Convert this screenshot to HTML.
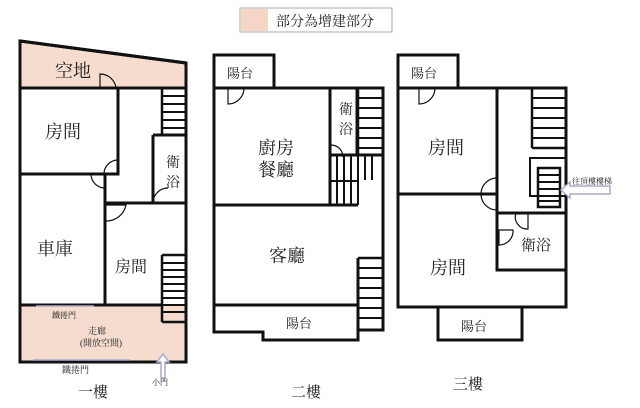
<!DOCTYPE html><html><head><meta charset="utf-8"><style>body{margin:0;background:#fff}svg{display:block}text{font-family:"Liberation Serif","Noto Serif CJK SC",serif;fill:#222}</style></head><body>
<svg width="640" height="408" viewBox="0 0 640 408" xmlns="http://www.w3.org/2000/svg">
<rect x="240" y="8" width="152" height="24" fill="#fff" stroke="#aaa"/>
<rect x="241" y="9" width="27" height="22" fill="#f6d5c6"/>
<text x="276" y="26" font-size="14">部分為增建部分</text>
<g stroke="#111" stroke-width="3" fill="none">
<polygon points="20,41 186,63 186,88 20,88" fill="#f6dccf"/>
<rect x="20" y="305" width="166" height="57" fill="#f6dccf" stroke="none"/>
<polyline points="20,41 186,63 186,362 20,362 20,41"/>
<line x1="20" y1="88" x2="186" y2="88"/>
<rect x="20" y="88" width="98" height="86"/>
<line x1="20" y1="174" x2="105" y2="174"/>
<line x1="105" y1="174" x2="105" y2="305"/>
<line x1="153" y1="135" x2="186" y2="135"/><line x1="153" y1="135" x2="153" y2="203"/>
<line x1="105" y1="203" x2="186" y2="203"/>
<line x1="20" y1="305" x2="162" y2="305"/>
<rect x="214" y="55" width="60" height="33"/>
<polyline points="214,88 383,88 383,330 358,330 358,340 263,340 263,332 214,332 214,88"/>
<line x1="214" y1="205" x2="358" y2="205"/>
<line x1="330" y1="88" x2="330" y2="205"/>
<line x1="330" y1="155" x2="383" y2="155"/>
<line x1="357" y1="88" x2="357" y2="155"/>
<line x1="214" y1="305" x2="358" y2="305"/>
<line x1="358" y1="258" x2="358" y2="340"/>
<rect x="398" y="55" width="60" height="33"/>
<rect x="398" y="88" width="168" height="219"/>
<line x1="497" y1="88" x2="497" y2="270"/>
<line x1="398" y1="194" x2="497" y2="194"/>
<rect x="497" y="213" width="69" height="57"/>
<rect x="438" y="307" width="84" height="33"/>
<rect x="530" y="158" width="36" height="38" stroke-width="2"/>
</g>
<g stroke="#111" stroke-width="2.5">
<line x1="162" y1="88" x2="162" y2="134"/><line x1="162" y1="255" x2="162" y2="322"/>
<line x1="162" y1="322" x2="186" y2="322"/><line x1="162" y1="255" x2="186" y2="255"/>
<line x1="358" y1="88" x2="358" y2="155"/>
<line x1="358" y1="258" x2="383" y2="258"/>
<line x1="532" y1="88" x2="532" y2="148"/><line x1="532" y1="148" x2="566" y2="148"/>
<rect x="538" y="168" width="22" height="39" fill="#fff"/>
</g>
<g stroke="#111" stroke-width="2">
<path d="M162,96h24M162,104h24M162,112h24M162,120h24M162,128h24"/>
<path d="M162,263h24M162,270h24M162,277h24M162,284h24M162,291h24M162,298h24M162,305h24M162,312h24"/>
<path d="M358,98h25M358,108h25M358,118h25M358,128h25M358,138h25M358,148h25"/>
<path d="M337,155v50M344,155v50M351,155v50M358,155v50M365,155v25M372,155v25M330,181h28"/>
<path d="M358,268h25M358,278h25M358,288h25M358,298h25M358,308h25M358,318h25"/>
<path d="M532,98h34M532,108h34M532,118h34M532,128h34M532,138h34"/>
<path d="M538,175h22M538,182h22M538,189h22M538,196h22M538,201h22"/>
</g>
<g stroke="#111" stroke-width="1.2" fill="none">
<path d="M100,88 v-14 a16,16 0 0 1 16,14"/>
<path d="M118,174 h-14 a14,14 0 0 1 14,-14"/>
<path d="M105,174 h-14 a14,14 0 0 0 14,14"/>
<path d="M106,205 h20 a20,20 0 0 1 -20,16"/>
<path d="M153,203 a15,15 0 0 1 15,-15"/>
<path d="M228,88 v16 a16,16 0 0 0 16,-16"/>
<path d="M331,145 a12,12 0 0 1 12,12"/>
<path d="M419,88 v16 a16,16 0 0 0 16,-16"/>
<path d="M497,178 a16,16 0 0 0 0,32 M497,178 v32"/>
<path d="M528,213 v16 a12,12 0 0 1 -12,-16"/>
<path d="M499,230 v15 a14,14 0 0 0 14,-15z"/>
</g>
<g stroke="#aac" stroke-width="1.5" fill="#fff">
<path d="M36,306h58M33,360h97"/>
<path d="M610,186 h-40 v-4 l-9,8 9,8 v-4 h40z"/>
<path d="M161,378 v-16 h-4 l6,-8 6,8 h-4 v16z"/>
</g>
<text x="55" y="77" font-size="18">空地</text>
<text x="45" y="138" font-size="18">房間</text>
<text x="166" y="167" font-size="14">衛</text><text x="166" y="187" font-size="14">浴</text>
<text x="37" y="255" font-size="18">車庫</text>
<text x="115" y="272" font-size="16">房間</text>
<text x="52" y="318" font-size="8">鐵捲門</text>
<text x="88" y="334" font-size="9">走廊</text>
<text x="80" y="346" font-size="9">(開放空間)</text>
<text x="62" y="373" font-size="9">鐵捲門</text>
<text x="152" y="385" font-size="8">小門</text>
<text x="78" y="397" font-size="15">一樓</text>
<text x="227" y="78" font-size="13">陽台</text>
<text x="339" y="114" font-size="14">衛</text><text x="339" y="134" font-size="14">浴</text>
<text x="258" y="154" font-size="18">廚房</text>
<text x="258" y="176" font-size="18">餐廳</text>
<text x="269" y="262" font-size="18">客廳</text>
<text x="286" y="328" font-size="13">陽台</text>
<text x="291" y="397" font-size="15">二樓</text>
<text x="411" y="78" font-size="13">陽台</text>
<text x="428" y="154" font-size="18">房間</text>
<text x="430" y="274" font-size="18">房間</text>
<text x="521" y="250" font-size="15">衛浴</text>
<text x="461" y="331" font-size="13">陽台</text>
<text x="572" y="184" font-size="8">往頂樓樓梯</text>
<text x="453" y="389" font-size="15">三樓</text>
</svg></body></html>
